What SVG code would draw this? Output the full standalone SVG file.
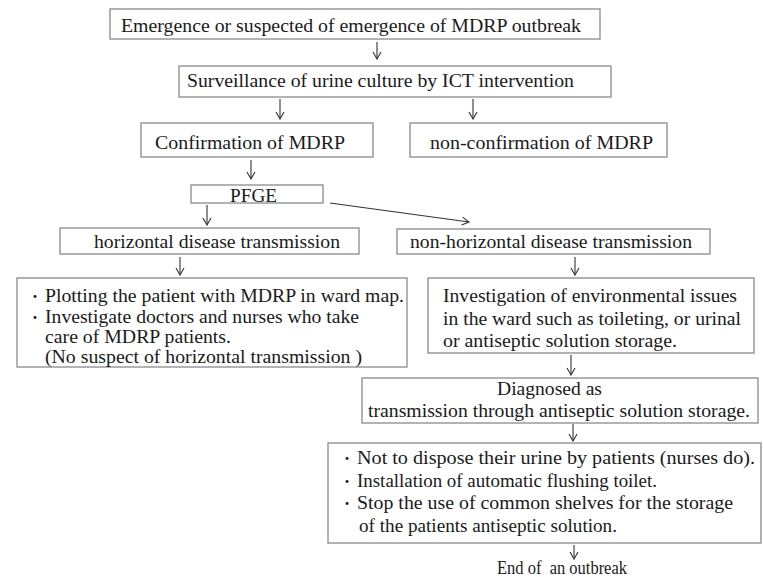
<svg xmlns="http://www.w3.org/2000/svg" width="763" height="577" viewBox="0 0 763 577">
<defs>
<style>
.box{fill:#fff;stroke:#8a8a8a;stroke-width:1.3}
.t{font-family:'Liberation Serif','Tinos','Times New Roman','DejaVu Serif',serif;font-size:18px;fill:#1a1a1a}
.b{font-family:'Noto Sans CJK JP',sans-serif;font-size:14px;fill:#1a1a1a}
.c{stroke:#333;stroke-width:1.1;fill:none;marker-end:url(#ah)}
</style>
<marker id="ah" markerWidth="10" markerHeight="10" refX="9" refY="5" orient="auto" markerUnits="userSpaceOnUse"><path d="M2,1 L9,5 L2,9" fill="none" stroke="#333" stroke-width="1.1"/></marker>
</defs>
<rect width="763" height="577" fill="#fff"/>
<g id="n1"><rect class="box" x="110" y="9" width="490" height="30"/><text class="t" x="121" y="32" textLength="460" lengthAdjust="spacingAndGlyphs">Emergence or suspected of emergence of MDRP outbreak</text></g>
<g id="n2"><rect class="box" x="179" y="66" width="432" height="31"/><text class="t" x="187" y="87" textLength="387" lengthAdjust="spacingAndGlyphs">Surveillance of urine culture by ICT intervention</text></g>
<g id="n3"><rect class="box" x="141" y="123" width="232" height="34"/><text class="t" x="155" y="149" textLength="190" lengthAdjust="spacingAndGlyphs">Confirmation of MDRP</text></g>
<g id="n4"><rect class="box" x="410" y="123" width="257" height="34"/><text class="t" x="430" y="149" textLength="223" lengthAdjust="spacingAndGlyphs">non-confirmation of MDRP</text></g>
<g id="n5"><rect class="box" x="191" y="185" width="132" height="18"/><text class="t" x="230" y="202" textLength="47" lengthAdjust="spacingAndGlyphs">PFGE</text></g>
<g id="n6"><rect class="box" x="60" y="228" width="299" height="26"/><text class="t" x="94" y="248" textLength="246" lengthAdjust="spacingAndGlyphs">horizontal disease transmission</text></g>
<g id="n7"><rect class="box" x="397" y="229" width="313" height="25"/><text class="t" x="410" y="248" textLength="282" lengthAdjust="spacingAndGlyphs">non-horizontal disease transmission</text></g>
<g id="n8"><rect class="box" x="17" y="278" width="390" height="89"/>
<text class="b" x="28" y="301">・</text><text class="t" x="45" y="302" textLength="359" lengthAdjust="spacingAndGlyphs">Plotting the patient with MDRP in ward map.</text>
<text class="b" x="28" y="322">・</text><text class="t" x="45" y="323" textLength="314" lengthAdjust="spacingAndGlyphs">Investigate doctors and nurses who take</text>
<text class="t" x="45" y="343" textLength="186" lengthAdjust="spacingAndGlyphs">care of MDRP patients.</text>
<text class="t" x="45" y="363" textLength="317" lengthAdjust="spacingAndGlyphs">(No suspect of horizontal transmission )</text></g>
<g id="n9"><rect class="box" x="428" y="278" width="326" height="75"/>
<text class="t" x="443" y="302" textLength="294" lengthAdjust="spacingAndGlyphs">Investigation of environmental issues</text>
<text class="t" x="443" y="325" textLength="298" lengthAdjust="spacingAndGlyphs">in the ward such as toileting, or urinal</text>
<text class="t" x="443" y="347" textLength="234" lengthAdjust="spacingAndGlyphs">or antiseptic solution storage.</text></g>
<g id="n10"><rect class="box" x="362" y="378" width="396" height="45"/>
<text class="t" x="497" y="395" textLength="105" lengthAdjust="spacingAndGlyphs">Diagnosed as</text>
<text class="t" x="368" y="417" textLength="382" lengthAdjust="spacingAndGlyphs">transmission through antiseptic solution storage.</text></g>
<g id="n11"><rect class="box" x="328" y="443" width="433" height="100"/>
<text class="b" x="340" y="463">・</text><text class="t" x="357" y="464" textLength="398" lengthAdjust="spacingAndGlyphs">Not to dispose their urine by patients (nurses do).</text>
<text class="b" x="340" y="486">・</text><text class="t" x="357" y="487" textLength="300" lengthAdjust="spacingAndGlyphs">Installation of automatic flushing toilet.</text>
<text class="b" x="340" y="508">・</text><text class="t" x="357" y="509" textLength="376" lengthAdjust="spacingAndGlyphs">Stop the use of common shelves for the storage</text>
<text class="t" x="359" y="532" textLength="258" lengthAdjust="spacingAndGlyphs">of the patients antiseptic solution.</text></g>
<g id="n12"><text class="t" x="497" y="574" textLength="130" lengthAdjust="spacingAndGlyphs" xml:space="preserve">End of  an outbreak</text></g>
<g id="connectors">
<line class="c" x1="377" y1="42" x2="377" y2="59"/>
<line class="c" x1="280" y1="99" x2="280" y2="119"/>
<line class="c" x1="473" y1="99" x2="473" y2="119"/>
<line class="c" x1="251" y1="160" x2="251" y2="179"/>
<line class="c" x1="207" y1="205" x2="207" y2="225"/>
<line class="c" x1="330" y1="203" x2="469" y2="222"/>
<line class="c" x1="180" y1="257" x2="180" y2="275"/>
<line class="c" x1="575" y1="257" x2="575" y2="275"/>
<line class="c" x1="571" y1="355" x2="571" y2="375"/>
<line class="c" x1="573" y1="424" x2="573" y2="441"/>
<line class="c" x1="574" y1="545" x2="574" y2="559"/>
</g>
</svg>
